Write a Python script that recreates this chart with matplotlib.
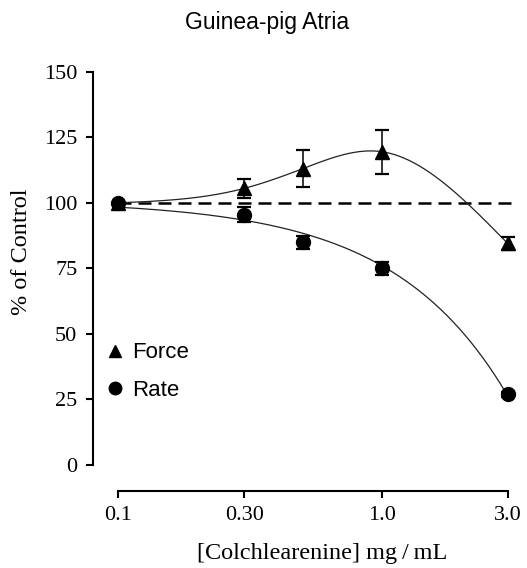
import numpy as np
from matplotlib import pyplot as plt
from matplotlib.lines import Line2D

# data
conc = [0.1, 0.3, 0.5, 1.0, 3.0]
force = [100, 105.5, 113, 119.5, 84.5]
force_err = [0, 3.7, 7, 8.4, 2.6]
rate = [100, 95.5, 85, 75, 27]
rate_err = [0, 2.8, 2.5, 2.4, 1.0]
xticks = [0.1, 0.3, 1.0, 3.0]
xtick_labels = ['0.1', '0.30', '1.0', '3.0']
yticks = [0, 25, 50, 75, 100, 125, 150]

serif = 'Liberation Serif'
sans = 'Liberation Sans'


def fit_line(x, y, deg):
    # polynomial fit in concentration, drawn on the log axis
    p = np.polyfit(x, y, deg)
    xs = np.logspace(np.log10(x[0]), np.log10(x[-1]), 200)
    return xs, np.polyval(p, xs)


def spline_curve(x, y):
    # natural cubic spline through the points in log10(x)
    u = np.log10(x)
    y = np.asarray(y, float)
    n = len(u)
    h = np.diff(u)
    A = np.zeros((n, n))
    b = np.zeros(n)
    A[0, 0] = A[-1, -1] = 1
    for i in range(1, n - 1):
        A[i, i - 1] = h[i - 1]
        A[i, i] = 2 * (h[i - 1] + h[i])
        A[i, i + 1] = h[i]
        b[i] = 6 * ((y[i + 1] - y[i]) / h[i] - (y[i] - y[i - 1]) / h[i - 1])
    M = np.linalg.solve(A, b)
    us = np.linspace(u[0], u[-1], 300)
    idx = np.clip(np.searchsorted(u, us) - 1, 0, n - 2)
    hi = h[idx]
    a = u[idx + 1] - us
    c = us - u[idx]
    ys = (M[idx] * a ** 3 + M[idx + 1] * c ** 3) / (6 * hi) \
        + (y[idx] / hi - M[idx] * hi / 6) * a + (y[idx + 1] / hi - M[idx + 1] * hi / 6) * c
    return 10 ** us, ys


def main():
    fig = plt.figure(figsize=(5.27, 5.68), dpi=100)
    ax = fig.add_axes([0.2245, 0.1813, 0.7389, 0.6924])

    ax.set_xscale('log')
    ax.set_xlim(0.1, 3.0)
    ax.set_ylim(0, 150)

    ax.axhline(100, xmax=1.015, color='black', lw=1.8, ls=(0, (5.2, 2.8)),
               zorder=1, clip_on=False)

    xs, ys = spline_curve(conc, force)
    ax.plot(xs, ys, color='#222222', lw=0.9, zorder=2, clip_on=False)
    xs, ys = fit_line(conc, rate, 1)
    ax.plot(xs, ys, color='#222222', lw=0.9, zorder=2, clip_on=False)

    for y, e, m, ms in [(force, force_err, '^', 10.5), (rate, rate_err, 'o', 10)]:
        eb = ax.errorbar(conc, y, yerr=e, fmt=m, color='black', ms=ms,
                         elinewidth=1.1, capsize=5, capthick=1.6, zorder=3)
        for art in eb.get_children():
            art.set_clip_on(False)

    for s in ['top', 'right']:
        ax.spines[s].set_visible(False)
    ax.spines['left'].set_position(('outward', 18.5))
    ax.spines['bottom'].set_position(('outward', 18.5))
    ax.spines['left'].set_linewidth(1.5)
    ax.spines['bottom'].set_linewidth(1.5)

    ax.set_xticks(xticks)
    ax.set_xticklabels(xtick_labels)
    ax.xaxis.set_minor_locator(plt.NullLocator())
    ax.set_yticks(yticks)
    ax.tick_params(direction='out', length=5, width=1.5, labelsize=16, pad=6)
    for lab in ax.get_xticklabels() + ax.get_yticklabels():
        lab.set_fontfamily(serif)

    handles = [Line2D([], [], ls='none', marker='^', color='black', ms=9),
               Line2D([], [], ls='none', marker='o', color='black', ms=9)]
    ax.legend(handles, ['Force', 'Rate'], loc='center left',
              bbox_to_anchor=(95 / 527, 1 - 371.5 / 568), bbox_transform=fig.transFigure,
              frameon=False, handlelength=0.8, handletextpad=0.35, labelspacing=0.72,
              borderpad=0, prop={'family': sans, 'size': 16})

    fig.text(267 / 527, 1 - 22 / 568, 'Guinea-pig Atria', ha='center', va='center',
             family=sans, fontsize=16.5)
    fig.text(322 / 527, 1 - 553 / 568, '[Colchlearenine] mg\u2009/\u2009mL', ha='center',
             va='center', family=serif, fontsize=17.5)
    fig.text(22 / 527, 1 - 252 / 568, '% of Control', ha='center', va='center',
             rotation=90, family=serif, fontsize=17.5)

    fig.savefig('out.png', dpi=100)


if __name__ == '__main__':
    main()
